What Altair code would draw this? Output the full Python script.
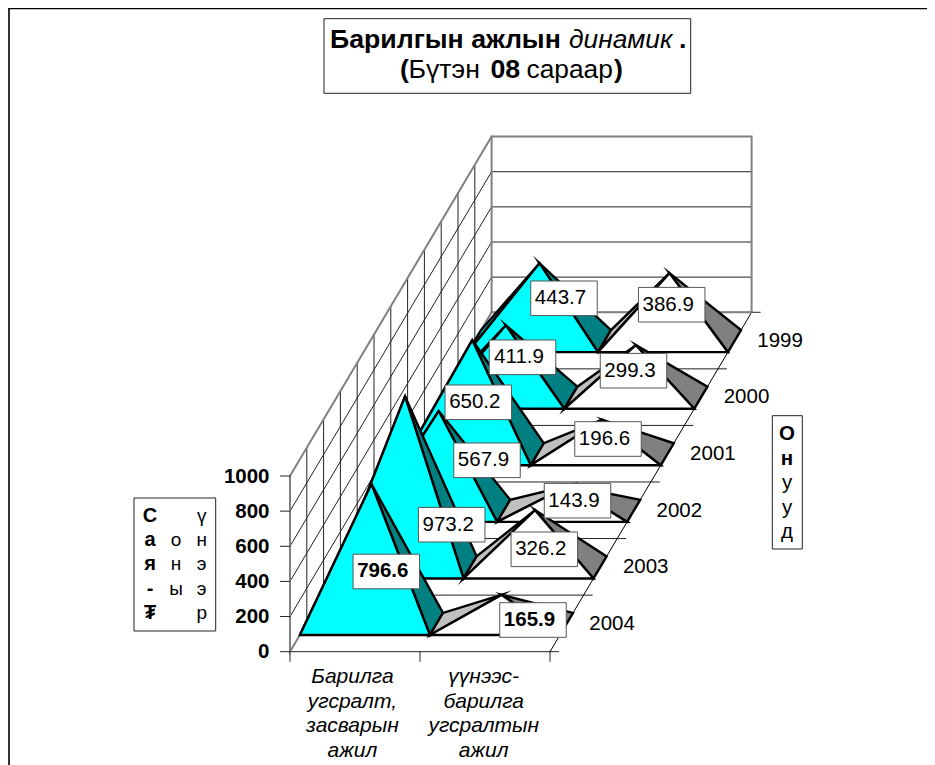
import altair as alt
import pandas as pd

YEARS = [2004, 2003, 2002, 2001, 2000, 1999]
CONSTRUCTION = [796.6, 973.2, 567.9, 650.2, 411.9, 443.7]
PRODUCTION = [165.9, 326.2, 143.9, 196.6, 299.3, 386.9]
BOLD_YEARS = [2004]
Y_TICKS = [0, 200, 400, 600, 800, 1000]
CAT_A = ["Барилга", "угсралт,", "засварын", "ажил"]
CAT_B = ["үүнээс-", "барилга", "угсралтын", "ажил"]

# geometry of the oblique projection
OX, OY = 290.0, 651.7
CAT_W = 130.0
UNIT = 0.1757
DX, DY = 33.6, 56.57
GAP, BASE = 0.295, 0.39
W, H = 919, 757


def proj(cat, depth, value):
    return OX + cat * CAT_W + depth * DX, OY - depth * DY - value * UNIT


line_rows, poly_rows = [], []
nid = [0]


def line(points, color, width):
    nid[0] += 1
    for i, (a, b) in enumerate(points):
        line_rows.append(dict(id=f"l{nid[0]:03d}", i=i, sx=a, sy=b, c=color, w=width))


def poly(points, fill):
    nid[0] += 1
    pts = points + [points[0], points[1]]
    for i, (a, b) in enumerate(pts):
        poly_rows.append(dict(id=f"p{nid[0]:03d}", i=i, sx=a, sy=b, f=fill))


GREY, INK = "#808080", "#222222"
# left wall
for v in Y_TICKS[1:-1]:
    line([proj(0, 0, v), proj(0, 6, v)], INK, 1)
for k in range(1, 12):
    line([proj(0, k / 2, 0), proj(0, k / 2, 1000)], INK, 1)
# back wall
for v in Y_TICKS[1:-1]:
    line([proj(0, 6, v), proj(2, 6, v)], INK, 1)
# floor rows
for k in range(0, 7):
    a = proj(2, k, 0)
    line([proj(0, k, 0), (a[0] + 8.5, a[1])], INK, 1)
line([proj(2, 0, 0), proj(2, 6, 0)], "#000000", 1)
# heavy wall edges
for pts in (
    [proj(0, 0, 1000), proj(0, 0, 0), proj(0, 6, 0), proj(2, 6, 0), proj(2, 6, 1000), proj(0, 6, 1000), proj(0, 0, 1000)],
    [proj(0, 6, 0), proj(0, 6, 1000)],
):
    line(pts, GREY, 2)
# ticks
for v in Y_TICKS:
    a = proj(0, 0, v)
    line([(a[0] - 9.5, a[1]), a], INK, 1)
for c in range(3):
    a = proj(c, 0, 0)
    line([a, (a[0], a[1] + 9.5)], INK, 1)


def pyramid(cat, k, value, front, left, right):
    d0, d1 = k + GAP, k + GAP + BASE
    fl, fr = proj(cat, d0, 0), proj(cat + 1, d0, 0)
    bl, br = proj(cat, d1, 0), proj(cat + 1, d1, 0)
    apex = proj(cat + 0.5, (d0 + d1) / 2, value)
    poly([fl, bl, apex], left)
    poly([fr, br, apex], right)
    poly([fl, fr, apex], front)


for k in reversed(range(6)):
    pyramid(0, k, CONSTRUCTION[k], "#00FFFF", "#00CCCC", "#008080")
    pyramid(1, k, PRODUCTION[k], "#FFFFFF", "#C0C0C0", "#808080")

# frame
line([(9, 8), (9, 765)], "#333333", 2)
line([(8, 8.5), (927, 8.5)], "#000000", 1.5)

# boxes
LABEL_CX = [386.3, 451.7, 487.0, 478.3, 522.5, 564.0]
LABEL_CY = [571.5, 524.7, 460.3, 402.3, 357.3, 298.3]
LABEL_B_CX = [533.0, 544.3, 577.5, 608.0, 633.5, 671.7]
LABEL_B_CY = [620.0, 549.3, 500.7, 439.0, 370.7, 304.7]
BW, BH = 66.5, 34.6

boxes = [
    dict(x=324, x2=690.7, y=18.7, y2=93.3, c="#222222"),
    dict(x=134, x2=215.7, y=498, y2=631, c="#222222"),
    dict(x=772.3, x2=802.3, y=415.7, y2=549, c="#222222"),
]
texts = []


def tx(t, x, y, size=20.5, weight="normal", style="normal", align="center"):
    texts.append(dict(t=t, x=x, y=y, s=size, weight=weight, style=style, align=align))


for k in range(6):
    bold = "bold" if YEARS[k] in BOLD_YEARS else "normal"
    for cx, cy, v in (
        (LABEL_CX[k], LABEL_CY[k], CONSTRUCTION[k]),
        (LABEL_B_CX[k], LABEL_B_CY[k], PRODUCTION[k]),
    ):
        boxes.append(dict(x=cx - BW / 2, x2=cx + BW / 2, y=cy - BH / 2, y2=cy + BH / 2, c="#555555"))
        tx(f"{v:.1f}", cx - 3.5, cy + 5.8, weight=bold)
    a = proj(2, k + 0.5, 0)
    tx(str(YEARS[k]), a[0] + 22.5, a[1] + 6.3, align="left")

for v in Y_TICKS:
    a = proj(0, 0, v)
    tx(str(v), a[0] - 20.5, a[1] + 6.5, weight="bold", align="right")

for lines_, c in ((CAT_A, 0.48), (CAT_B, 1.49)):
    x = proj(c, 0, 0)[0]
    for j, s in enumerate(lines_):
        tx(s, x, 683 + j * 24.5, size=21, style="italic")

# title
TS = 26.3
TB = 26.7
tx("Барилгын ажлын", 330, 48, TB, weight="bold", align="left")
tx("динамик", 569, 48, TS, style="italic", align="left")
tx(".", 679, 48, TB, weight="bold", align="left")
tx("(", 400, 78, TB, weight="bold", align="left")
tx("Бүтэн", 408.5, 78, 26.7, align="left")
tx("08", 490.5, 78, TB, weight="bold", align="left")
tx("сараар", 526.5, 78, TS, align="left")
tx(")", 614, 78, TB, weight="bold", align="left")

# stacked axis titles
ROWS = [521.7, 546, 570, 595, 618.5]
for s, y in zip("Сая-₮", ROWS):
    tx(s, 150, y, 20, weight="bold")
for s, y in zip("оны", ROWS[1:4]):
    tx(s, 176, y, 19)
for s, y in zip("үнээр", ROWS):
    tx(s, 201.7, y, 19)
for s, y, w in zip("Онууд", [439.5, 464.5, 489, 514, 538], ["bold", "bold", "normal", "normal", "normal"]):
    tx(s, 787, y, 20.5, weight=w)

X = alt.X("sx:Q", scale=alt.Scale(domain=[8, 8 + W]), axis=None)
Y = alt.Y("sy:Q", scale=alt.Scale(domain=[8 + H, 8]), axis=None)

lines_df = pd.DataFrame(line_rows)
poly_df = pd.DataFrame(poly_rows)
box_df = pd.DataFrame(boxes).rename(columns={"x": "sx", "y": "sy", "x2": "sx2", "y2": "sy2"})
text_df = pd.DataFrame(texts).rename(columns={"x": "sx", "y": "sy"})

frame = alt.Chart(lines_df).mark_line(strokeCap="square").encode(
    x=X, y=Y, detail="id:N", order="i:Q",
    stroke=alt.Stroke("c:N", scale=None), strokeWidth=alt.StrokeWidth("w:Q", scale=None),
)
pyr = alt.Chart(poly_df).mark_line(stroke="#000000", strokeWidth=2.4, strokeMiterLimit=10).encode(
    x=X, y=Y, detail="id:N", order="i:Q", fill=alt.Fill("f:N", scale=None),
)
rects = alt.Chart(box_df).mark_rect(fill="#FFFFFF", strokeWidth=1).encode(
    x=X, x2="sx2:Q", y=Y, y2="sy2:Q", stroke=alt.Stroke("c:N", scale=None),
)
layers = [frame, pyr, rects]
for (weight, style, align), g in text_df.groupby(["weight", "style", "align"]):
    layers.append(
        alt.Chart(g).mark_text(
            font="Liberation Sans", fontWeight=weight, fontStyle=style, align=align,
            baseline="alphabetic", color="#000000",
        ).encode(x=X, y=Y, text="t:N", size=alt.Size("s:Q", scale=None))
    )

chart = alt.layer(*layers).properties(
    width=W, height=H, padding=0, autosize=alt.AutoSizeParams(type="none"),
).configure_view(stroke=None)
chart.save("out.html", embed_options={"renderer": "svg", "actions": False})
